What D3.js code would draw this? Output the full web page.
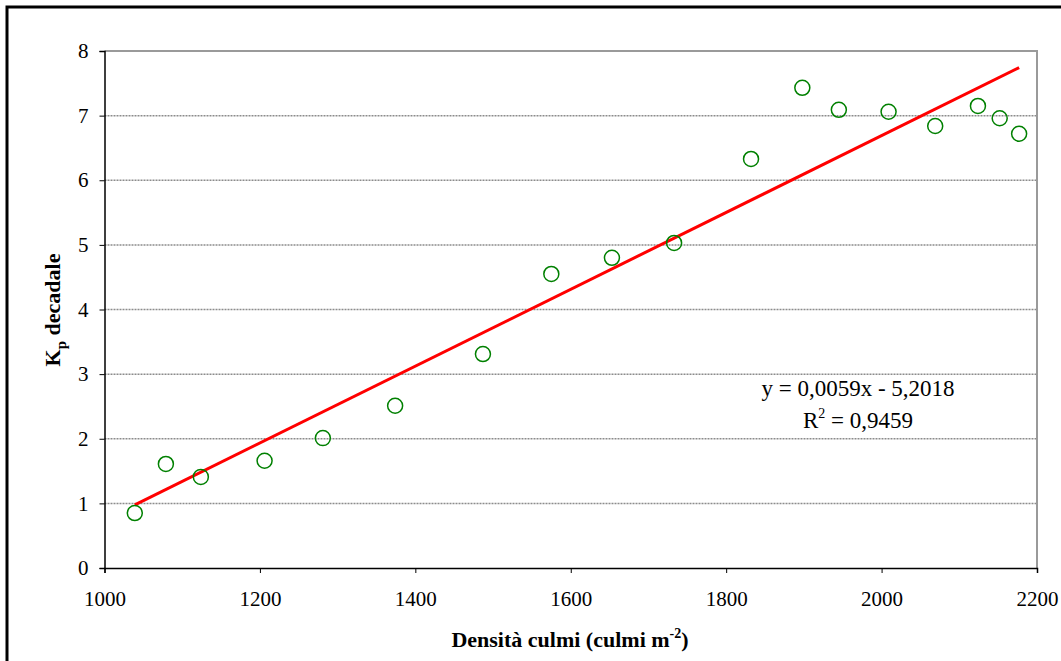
<!DOCTYPE html>
<html><head><meta charset="utf-8">
<script src="https://cdn.jsdelivr.net/npm/d3@7"></script>
<style>body{margin:0;background:#fff}svg{display:block}text{font-family:"Liberation Serif","Times New Roman",serif}</style>
</head><body><svg id="c" width="1061" height="661"></svg>
<script>
const density = [1039,1079,1124,1206,1281,1374,1487,1575,1653,1733,1832,1898,1945,2009,2069,2124,2152,2177];
const kp = [0.85,1.61,1.41,1.66,2.01,2.51,3.31,4.55,4.80,5.03,6.33,7.43,7.09,7.06,6.84,7.15,6.96,6.72];
const xTicks = [1000,1200,1400,1600,1800,2000,2200];
const yTicks = [0,1,2,3,4,5,6,7,8];
const eqText = "y = 0,0059x - 5,2018";
const r2Text = "0,9459";

const svg = d3.select("#c");
svg.append("rect").attr("x",7).attr("y",7).attr("width",1060).attr("height",660)
  .attr("fill","#fff").attr("stroke","#000").attr("stroke-width",3);

const L=104.5,R=1037,T=51,B=568;
const x = d3.scaleLinear().domain([1000,2200]).range([L,R]);
const y = d3.scaleLinear().domain([0,8]).range([B,T]);

// gridlines
svg.append("g").selectAll("line").data(yTicks.filter(d=>d>0&&d<8)).join("line")
  .attr("x1",L).attr("x2",R).attr("y1",d=>y(d)).attr("y2",d=>y(d))
  .attr("stroke","#8c8c8c").attr("stroke-width",1.5).attr("stroke-dasharray","2,1");
// top & right border
svg.append("path").attr("d",`M${L},${T}H${R}V${B}`).attr("fill","none").attr("stroke","#9a9a9a").attr("stroke-width",2);

// axes
const xa = svg.append("g").attr("transform",`translate(0,${B})`)
  .call(d3.axisBottom(x).tickValues(xTicks).tickSize(5).tickPadding(18).tickFormat(d3.format("d")));
const ya = svg.append("g").attr("transform",`translate(${L},0)`)
  .call(d3.axisLeft(y).tickValues(yTicks).tickSize(5).tickPadding(11));
[xa,ya].forEach(a=>{
  a.select(".domain").attr("stroke","#000").attr("stroke-width",1.5);
  a.selectAll(".tick line").attr("stroke","#000").attr("stroke-width",1);
  a.selectAll("text").attr("font-size",21).attr("fill","#000")
   .attr("font-family","'Liberation Serif',serif");
});

// regression line (least squares from data)
const mx=d3.mean(density), my=d3.mean(kp);
const slope=d3.sum(density.map((d,i)=>(d-mx)*(kp[i]-my)))/d3.sum(density.map(d=>(d-mx)**2));
const icpt=my-slope*mx;
const x0=d3.min(density), x1=d3.max(density);
svg.append("line").attr("x1",x(x0)).attr("y1",y(slope*x0+icpt))
  .attr("x2",x(x1)).attr("y2",y(slope*x1+icpt))
  .attr("stroke","#ff0000").attr("stroke-width",3);

// points
svg.append("g").selectAll("circle").data(density).join("circle")
  .attr("cx",d=>x(d)).attr("cy",(d,i)=>y(kp[i])).attr("r",7.5)
  .attr("fill","none").attr("stroke","#008000").attr("stroke-width",1.5);

// equation
svg.append("text").attr("x",858).attr("y",396).attr("text-anchor","middle")
  .attr("font-size",23).text(eqText);
const t2=svg.append("text").attr("x",858).attr("y",428).attr("text-anchor","middle").attr("font-size",23);
t2.append("tspan").text("R");
t2.append("tspan").attr("dy",-10).attr("font-size",14).text("2");
t2.append("tspan").attr("dy",10).text(" = "+r2Text);

// axis titles
const xt=svg.append("text").attr("x",570).attr("y",647).attr("text-anchor","middle")
  .attr("font-size",22).attr("font-weight","bold");
xt.append("tspan").text("Densità culmi (culmi m");
xt.append("tspan").attr("dy",-9).attr("font-size",14).text("-2");
xt.append("tspan").attr("dy",9).text(")");

const yt=svg.append("text").attr("transform","translate(60,310) rotate(-90)").attr("text-anchor","middle")
  .attr("font-size",22).attr("font-weight","bold");
yt.append("tspan").text("K");
yt.append("tspan").attr("dy",6).attr("font-size",15).text("p");
yt.append("tspan").attr("dy",-6).text(" decadale");
</script></body></html>
